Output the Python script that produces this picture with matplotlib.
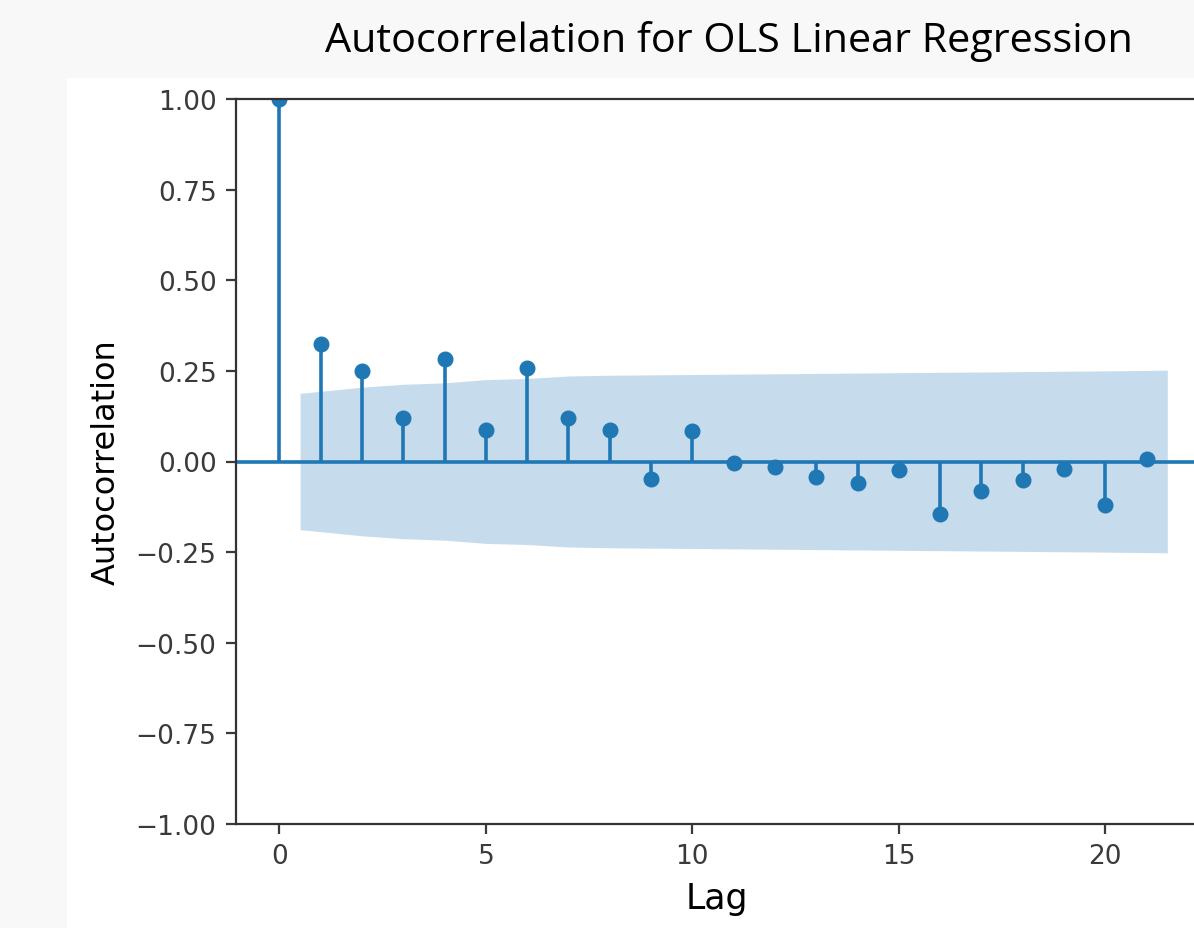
import matplotlib
matplotlib.use("Agg")
import matplotlib.pyplot as plt
from matplotlib.patches import Rectangle

plt.rcParams["font.family"] = ["DejaVu Sans"]

# ACF values
lags = list(range(22))
acf = [1.0, 0.323, 0.251, 0.121, 0.284, 0.088, 0.257, 0.121, 0.088, -0.047,
       0.083, -0.004, -0.015, -0.042, -0.059, -0.024, -0.146, -0.080, -0.052,
       -0.020, -0.119, 0.008]
# half-width of the confidence band for lags 1..21
band = [0.188, 0.205, 0.213, 0.217, 0.226, 0.229, 0.236, 0.238, 0.239, 0.240,
        0.241, 0.242, 0.243, 0.244, 0.245, 0.246, 0.247, 0.248, 0.249, 0.250,
        0.252]
title = "Autocorrelation for OLS Linear Regression"

W, H = 1194, 929
fig = plt.figure(figsize=(W / 100, H / 100), dpi=100)
fig.patch.set_facecolor("#f8f8f8")
# white screenshot area
fig.add_artist(Rectangle((67 / W, 0), 1, 1 - 79 / H, transform=fig.transFigure,
                         facecolor="white", edgecolor="none", zorder=0))

fig.text(729 / W, 1 - 42 / H, title, ha="center", va="center",
         fontsize=29.8, family=["Open Sans", "DejaVu Sans"], color="black")

left, right = 236, 1197
top, bottom = 100, 825
ax = fig.add_axes([left / W, 1 - bottom / H, (right - left) / W, (bottom - top) / H])
ax.set_facecolor("none")

c0 = "#1f77b4"
ax.vlines(lags, 0, acf, color=c0, lw=2.6)
ax.axhline(0, color=c0, lw=2.6)
ax.plot(lags, acf, "o", color=c0, markersize=10.5, linestyle="None")

bx = [l for l in lags[1:]]
bx[0] -= 0.5
bx[-1] += 0.5
ax.fill_between(bx, [-b for b in band], band, color=c0, alpha=0.25, lw=0)

ax.set_xlim(-1.05, -1.05 + (right - left) / 41.3)
ax.set_ylim(-1, 1)
ax.set_xticks([0, 5, 10, 15, 20])
ax.set_yticks([-1, -0.75, -0.5, -0.25, 0, 0.25, 0.5, 0.75, 1])
ax.set_yticklabels(["\u22121.00", "\u22120.75", "\u22120.50", "\u22120.25", "0.00",
                    "0.25", "0.50", "0.75", "1.00"])
ax.tick_params(labelsize=19, length=7, width=1.6, colors="#3a3a3a", pad=7)
for s in ax.spines.values():
    s.set_linewidth(1.6)
    s.set_color("#333333")
ax.set_ylabel("Autocorrelation", fontsize=23, labelpad=10)
ax.set_xlabel("Lag", fontsize=25, labelpad=8)

fig.savefig("out.png", dpi=100, facecolor=fig.get_facecolor())
